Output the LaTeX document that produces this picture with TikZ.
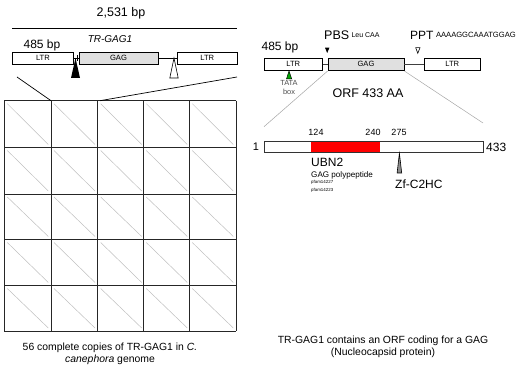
\documentclass[tikz,border=0pt]{standalone}
\usepackage{fontspec}
\setmainfont{Liberation Sans}
\begin{document}
\begin{tikzpicture}[x=1pt,y=-1pt,
  lbl/.style={inner sep=0pt,font=\fontsize{#1}{#1}\selectfont},
  seg/.style={draw=black,line width=0.8pt,inner sep=0pt,minimum height=12pt,font=\fontsize{7.6}{8}\selectfont},
  gridline/.style={draw=black!85,line width=0.9pt},
  dotdiag/.style={draw=black!25,line width=0.5pt},
  zoomline/.style={draw=black!35,line width=0.5pt},
  captext/.style={inner sep=0pt,font=\fontsize{10.4}{12.5}\selectfont,align=center}]
\useasboundingbox (0,0) rectangle (522,366);
% ---------- left: TR-GAG1 element ----------
\node[lbl=12.5] (len) at (121,13) {2,531 bp};
\coordinate (topL) at (12,28);
\coordinate (topR) at (237,28);
\draw[line width=0.8pt] (topL) -- (topR);
\node[lbl=10] (name) at (110,39) {\itshape TR-GAG1};
\node[lbl=12] (bpL) at (42,45) {485 bp};
\node[seg,minimum width=60.3pt] (ltrA) at (42.9,58) {LTR};
\node[seg,fill=black!12,minimum width=79pt] (gagA) at (118.5,58) {GAG};
\node[seg,minimum width=59.5pt] (ltrB) at (207.25,58) {LTR};
\draw[line width=0.8pt] (ltrA.east) -- (gagA.west);
\draw[line width=0.8pt] (gagA.east) -- (ltrB.west);
\draw[line width=0.6pt] (73.4,55) -- (73.4,61) (77.4,55) -- (77.4,61);
\coordinate (pbsA) at (75.5,58);
\fill[black] (pbsA) -- (80,78) -- (71,78) -- cycle;
\coordinate (pptA) at (174,58);
\draw[fill=white,line width=0.6pt] (pptA) -- (178.2,78) -- (169.8,78) -- cycle;
% grid (dot plots)
\foreach \c in {4.3,51,97.7,143.3,189.3}{
  \foreach \r/\rr in {100.7/147.5,147.5/194,194/239.5,239.5/285.5,285.5/331}{
    \draw[dotdiag] (\c+3,\r+3) -- (\c+44,\rr-3);
  }}
\foreach \c in {4.3,51,97.7,143.3,189.3,236}{
  \draw[gridline] (\c,100.7) -- (\c,331);}
\foreach \r in {100.7,147.5,194,239.5,285.5,331}{
  \draw[gridline] (4.3,\r) -- (236,\r);}
\coordinate (gA) at (51,100.7);
\coordinate (gB) at (100,100.7);
\coordinate (zA) at (17,77);
\coordinate (zB) at (237,77);
\draw[line width=0.7pt] (zA) -- (gA);
\draw[line width=0.7pt] (gB) -- (zB);
\node[captext] (capL) at (110,354) {56 complete copies of TR-GAG1 in \textit{C.}\\\textit{canephora} genome};
% ---------- right: ORF ----------
\node[lbl=12.5,anchor=west] (pbs) at (324,35) {PBS};
\node[lbl=7,anchor=west] (leu) at (pbs.east) {\ Leu CAA};
\node[lbl=12,anchor=west] (ppt) at (410,35) {PPT};
\node[lbl=7.6,anchor=west] (seq) at (ppt.east) {\ AAAAGGCAAATGGAG};
\node[lbl=12] (bpR) at (280,47) {485 bp};
\fill[black] (325,47.7) -- (329.4,47.7) -- (327.2,53) -- cycle;
\draw[fill=white,line width=0.6pt] (415.7,47.7) -- (420,47.7) -- (417.8,53.3) -- cycle;
\node[seg,minimum width=58.7pt,minimum height=12.7pt] (ltrC) at (293.3,64.3) {LTR};
\node[seg,fill=black!12,minimum width=76pt,minimum height=12.7pt] (gagC) at (366,64.3) {GAG};
\node[seg,minimum width=56.7pt,minimum height=12.7pt] (ltrD) at (452.3,64.3) {LTR};
\draw[line width=0.9pt,black!75] (ltrC.east) -- (gagC.west);
\draw[line width=0.9pt,black!75] (gagC.east) -- (ltrD.west);
\draw[fill=green!65!black,line width=0.5pt] (289,71) -- (291.7,79) -- (286.5,79) -- cycle;
\node[lbl=7.4,text=black!70,align=center] (tata) at (289,87.5) {TATA\\[1.5pt]box};
\node[lbl=12.5] (orf) at (368,93) {ORF 433 AA};
\coordinate (zC) at (264,126.7);
\coordinate (zD) at (483,123);
\draw[zoomline] (gagC.south west) -- (zC);
\draw[zoomline] (gagC.south east) -- (zD);
\node[draw=black!80,line width=0.8pt,minimum width=219pt,minimum height=11pt,inner sep=0pt] (bar) at (373.5,147.2) {};
\fill[red] (311,142.1) rectangle (380,152.3);
\node[lbl=11] (one) at (256,146.5) {1};
\node[lbl=12,anchor=west] (end) at (486,147) {433};
\node[lbl=9] (p124) at (316,132) {124};
\node[lbl=9] (p240) at (373,132) {240};
\node[lbl=9] (p275) at (399,132) {275};
\draw[fill=black!45,line width=0.6pt] (399.4,153.3) -- (401.7,173) -- (397.1,173) -- cycle;
\node[lbl=12,anchor=west] (ubn) at (311,162.7) {UBN2};
\node[lbl=8.1,anchor=west] (gp) at (311,175) {GAG polypeptide};
\node[lbl=4.4,anchor=west] (pf1) at (311,182.7) {pfam14227};
\node[lbl=4.4,anchor=west] (pf2) at (311,190.7) {pfam14223};
\node[lbl=12,anchor=west] (zf) at (395,184.3) {Zf-C2HC};
\node[captext] (capR) at (383,347) {TR-GAG1 contains an ORF coding for a GAG\\(Nucleocapsid protein)};
\end{tikzpicture}
\end{document}
